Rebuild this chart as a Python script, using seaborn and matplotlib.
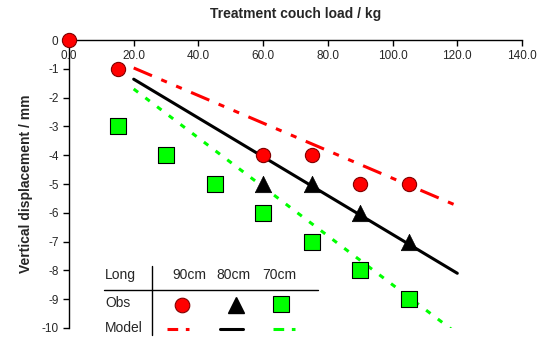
import numpy as np
import pandas as pd
import matplotlib
matplotlib.use("Agg")
import matplotlib.pyplot as plt
from matplotlib.lines import Line2D
from matplotlib.ticker import FormatStrFormatter
import seaborn as sns

sns.set_style("white")
plt.rcParams['font.family'] = ['Liberation Sans', 'DejaVu Sans']
plt.rcParams['axes.unicode_minus'] = False

# observed points
load_90 = [0, 15, 60, 75, 90, 105]
disp_90 = [0, -1, -4, -4, -5, -5]
load_80 = [60, 75, 90, 105]
disp_80 = [-5, -5, -6, -7]
load_70 = [15, 30, 45, 60, 75, 90, 105]
disp_70 = [-3, -4, -5, -6, -7, -8, -9]

# model lines
model_load = [20, 120]
model_90 = [-0.97, -5.76]
model_80 = [-1.36, -8.1]
model_70 = [-1.7, -10.2]

red = '#ff0000'
green = '#00ff00'

fig = plt.figure(figsize=(5.44, 3.48), dpi=100)
ax = fig.add_axes([0.1268, 0.0575, 0.8328, 0.8275])

dash_red = (6.5, 3.3, 2, 3.3, 2, 3.3)
dash_green = (1.8, 3.0)
ax.plot(model_load, model_90, color=red, lw=2.2, dashes=dash_red)
sns.lineplot(x=model_load, y=model_80, color='black', lw=2.2, ax=ax)
ax.plot(model_load, model_70, color=green, lw=2.2, dashes=dash_green)

sns.scatterplot(x=load_90, y=disp_90, marker='o', s=105, color=red,
                edgecolor='#800000', linewidth=0.8, ax=ax, clip_on=False, zorder=5)
sns.scatterplot(x=load_80, y=disp_80, marker='^', s=140, color='black',
                edgecolor='black', linewidth=0.5, ax=ax, zorder=5)
sns.scatterplot(x=load_70, y=disp_70, marker='s', s=130, color=green,
                edgecolor='black', linewidth=0.8, ax=ax, zorder=5)

ax.set_xlim(0, 140)
ax.set_ylim(-10, 0)
ax.set_xticks(np.arange(0, 141, 20))
ax.set_yticks(np.arange(-10, 1, 1))
ax.xaxis.set_major_formatter(FormatStrFormatter('%.1f'))
ax.spines['bottom'].set_position(('data', 0))
ax.spines['top'].set_visible(False)
ax.spines['right'].set_visible(False)
for s in ['bottom', 'left']:
    ax.spines[s].set_color('black')
    ax.spines[s].set_linewidth(1.0)
ax.tick_params(axis='both', direction='out', length=4, width=1,
               color='black', labelsize=8.5, bottom=True, left=True)
ax.tick_params(axis='x', pad=3)
ax.set_title('Treatment couch load / kg', fontsize=10, fontweight='bold', pad=16)
ax.set_ylabel('Vertical displacement / mm', fontsize=10, fontweight='bold', labelpad=6)

# table-style legend
tr = ax.transAxes
ax.add_line(Line2D([0.077, 0.55], [0.132, 0.132], color='black', lw=1, transform=tr))
ax.add_line(Line2D([0.183, 0.183], [0.215, -0.024], color='black', lw=1,
                   transform=tr, clip_on=False))
ax.text(0.0795, 0.184, 'Long', transform=tr, fontsize=10, va='center')
for xc, lab in zip([0.265, 0.364, 0.464], ['90cm', '80cm', '70cm']):
    ax.text(xc, 0.184, lab, transform=tr, fontsize=10, va='center', ha='center')
ax.text(0.0795, 0.087, 'Obs', transform=tr, fontsize=10, va='center')
ax.text(0.0795, 0.0, 'Model', transform=tr, fontsize=10, va='center')
ax.plot([0.249], [0.08], 'o', ms=10.5, color=red, mec='#800000', mew=0.8, transform=tr)
ax.plot([0.369], [0.08], '^', ms=12, color='black', transform=tr)
ax.plot([0.468], [0.085], 's', ms=11, color=green, mec='black', mew=0.8, transform=tr)
ax.add_line(Line2D([0.216, 0.265], [-0.003, -0.003], color=red, lw=2.2,
                   dashes=(3.5, 2.5, 1.2, 2.5), transform=tr, clip_on=False))
ax.add_line(Line2D([0.333, 0.384], [-0.003, -0.003], color='black', lw=2.2,
                   transform=tr, clip_on=False))
ax.add_line(Line2D([0.450, 0.499], [-0.003, -0.003], color=green, lw=2.2,
                   dashes=(3.5, 2.5), transform=tr, clip_on=False))

fig.savefig('out.png', dpi=100)
